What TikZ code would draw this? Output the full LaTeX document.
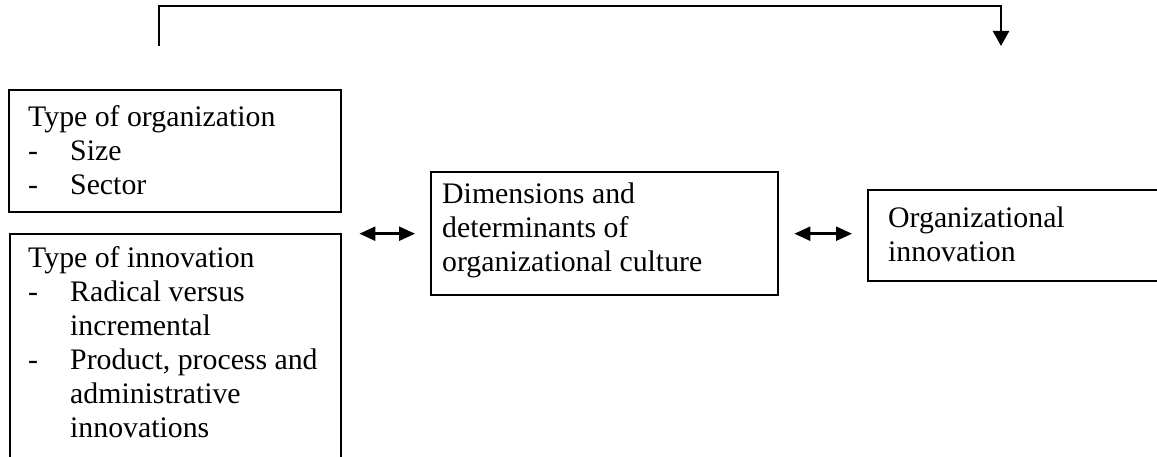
\documentclass[tikz,border=0pt]{standalone}
\usepackage{fontspec}
\setmainfont{Liberation Serif}
\usetikzlibrary{arrows.meta}
\newcommand{\dashitem}[1]{\makebox[42pt][l]{-}#1}
\newcommand{\contitem}[1]{\hspace*{42pt}#1}
\tikzset{
  box/.style={draw, line width=2.4pt, rectangle, anchor=north west, inner sep=0pt},
  txt/.style={anchor=north west, inner sep=0pt, align=left,
    font=\fontsize{29.8pt}{34pt}\selectfont},
  dbl/.style={line width=2.4pt, {Triangle[length=16pt,width=14pt]}-{Triangle[length=16pt,width=14pt]}},
  arr/.style={line width=2.4pt, -{Triangle[length=15pt,width=16pt]}}
}
\begin{document}
\begin{tikzpicture}[x=1pt,y=1pt]
\useasboundingbox (0,0) rectangle (1157,-457);
% boxes
\node[box, minimum width=332pt, minimum height=122pt] (org) at (8,-89) {};
\node[box, minimum width=331pt, minimum height=228pt] (inn) at (9,-233) {};
\node[box, minimum width=347pt, minimum height=123pt] (dim) at (430,-171) {};
\node[box, minimum width=320pt, minimum height=91pt] (oin) at (867,-189) {};
% texts
\node[txt] (orgT) at (28,-102.2) {\strut Type of organization\\ \strut\dashitem{Size}\\ \strut\dashitem{Sector}};
\node[txt] (innT) at (28,-243.2) {\strut Type of innovation\\ \strut\dashitem{Radical versus}\\ \strut\contitem{incremental}\\ \strut\dashitem{Product, process and}\\ \strut\contitem{administrative}\\ \strut\contitem{innovations}};
\node[txt] (dimT) at (442,-179.2) {\strut Dimensions and\\ \strut determinants of\\ \strut organizational culture};
\node[txt] (oinT) at (888,-203.2) {\strut Organizational\\ \strut innovation};
% connectors
\draw[dbl] ([xshift=17pt]dim.west -| inn.east) -- ([xshift=-15pt]dim.west);
\draw[dbl] ([xshift=15pt]dim.east) -- ([xshift=-15pt]dim.east -| oin.west);
\coordinate (fs) at (159,-46);
\coordinate (fe) at (1001,-46);
\draw[arr] (fs) -- ++(0,40) -| (fe);
\end{tikzpicture}
\end{document}
